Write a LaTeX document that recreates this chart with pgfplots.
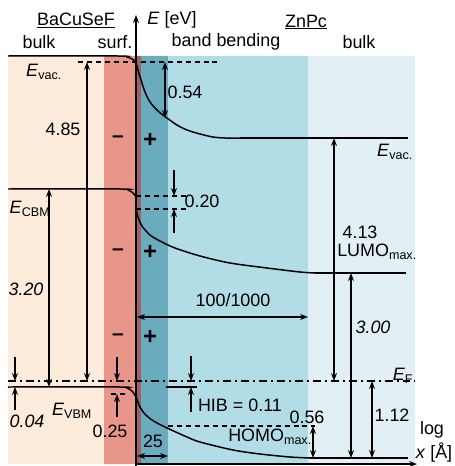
\documentclass[border=0pt]{standalone}
\usepackage{pgfplots}
\pgfplotsset{compat=1.18}
\usepackage{fontspec}
\setmainfont{Liberation Sans}
\usetikzlibrary{arrows.meta}
\definecolor{peach}{HTML}{FDEBDC}
\definecolor{salmon}{HTML}{E8958A}
\definecolor{mauve}{HTML}{A0606A}
\definecolor{teal2}{HTML}{6AABBE}
\definecolor{lblue}{HTML}{B3DDE6}
\definecolor{vlblue}{HTML}{E2F0F5}
\definecolor{txt}{HTML}{2A2A2A}
\begin{document}
\fontsize{18}{20}\selectfont
\begin{tikzpicture}[>={Stealth[length=8pt,width=6pt]},
  pm/.style={font=\fontsize{24}{24}\selectfont\bfseries},
  mn/.style={font=\fontsize{21}{21}\selectfont\bfseries}]
\begin{axis}[width=455bp,height=466bp,scale only axis,
  xmin=0,xmax=455,ymin=0,ymax=466,y dir=reverse,
  axis lines=none,clip=false,
  every node/.append style={text=txt,inner sep=0pt}]
% regions
\addplot[fill=peach,draw=none] coordinates {(8,56) (104,56) (104,464) (8,464) (8,56)};
\addplot[fill=salmon,draw=none] coordinates {(104,56) (136,56) (136,464) (104,464) (104,56)};
\addplot[fill=mauve,draw=none] coordinates {(136,56) (141,56) (141,464) (136,464) (136,56)};
\addplot[fill=teal2,draw=none] coordinates {(141,56) (168,56) (168,464) (141,464) (141,56)};
\addplot[fill=lblue,draw=none] coordinates {(168,56) (308,56) (308,464) (168,464) (168,56)};
\addplot[fill=vlblue,draw=none] coordinates {(308,56) (415,56) (415,464) (308,464) (308,56)};
% dashed lines
\addplot[black,line width=1.1pt,dash pattern=on 5pt off 4pt] coordinates {(78,62) (217,62)};
\addplot[black,line width=1.1pt,dash pattern=on 5pt off 4pt] coordinates {(136,196) (186,196)};
\addplot[black,line width=1.1pt,dash pattern=on 5pt off 4pt] coordinates {(136,209) (186,209)};
\addplot[black,line width=1.1pt,dash pattern=on 5pt off 4pt] coordinates {(168,426) (315,426)};
\addplot[black,line width=1.1pt,dash pattern=on 5pt off 4pt] coordinates {(111,394) (127,394)};
\addplot[black,line width=1.2pt,dash pattern=on 8pt off 4pt on 2pt off 4pt] coordinates {(8,381) (415,381)};
% band lines
\addplot[black,line width=1.5pt,smooth] coordinates {(8,56) (118,56) (127,57) (132,59) (135,61) (136,63) (138,70) (141,80) (145,92) (150,102) (158,111) (167,118) (177,125) (187,130) (200,134) (213,137) (225,138) (240,138)};
\addplot[black,line width=1.5pt] coordinates {(240,138) (408,138)};
\addplot[black,line width=1.5pt,smooth] coordinates {(8,189) (121,189) (128,190) (133,193) (136,197)};
\addplot[black,line width=1.5pt,smooth] coordinates {(136,209) (138,217) (142,226) (150,235) (160,241) (175,248) (200,256) (230,263) (267,268) (300,272) (315,273)};
\addplot[black,line width=1.5pt] coordinates {(315,273) (406,273)};
\addplot[black,line width=1.5pt,smooth] coordinates {(8,387) (120,387) (127,388) (132,391) (136,397) (139,405) (144,413) (152,420) (165,427) (187,437) (200,442) (233,450) (260,454) (290,457) (310,458)};
\addplot[black,line width=1.5pt] coordinates {(310,458) (408,458)};
\addplot[black,line width=1.5pt] coordinates {(166,387) (197,387)};
% axes
\addplot[black,line width=1.5pt,->] coordinates {(136,466) (136,15)};
\addplot[black,line width=1.5pt,->] coordinates {(136,464) (417,464)};
% arrows
\addplot[black,line width=1.2pt,<->] coordinates {(87,62) (87,381)};
\addplot[black,line width=1.2pt,<->] coordinates {(49,189) (49,387)};
\addplot[black,line width=1.2pt,->] coordinates {(15,357) (15,381)};
\addplot[black,line width=1.2pt,->] coordinates {(15,410) (15,387)};
\addplot[black,line width=1.2pt,->] coordinates {(117,357) (117,381)};
\addplot[black,line width=1.2pt,->] coordinates {(117,417) (117,394)};
\addplot[black,line width=1.2pt,<->] coordinates {(165,62) (165,118)};
\addplot[black,line width=1.2pt,->] coordinates {(174,170) (174,196)};
\addplot[black,line width=1.2pt,->] coordinates {(174,233) (174,209)};
\addplot[black,line width=1.2pt,->] coordinates {(191,356) (191,381)};
\addplot[black,line width=1.2pt,->] coordinates {(191,412) (191,387)};
\addplot[black,line width=1.2pt,<->] coordinates {(137,317) (308,317)};
\addplot[black,line width=1.2pt,<->] coordinates {(137,456) (168,456)};
\addplot[black,line width=1.2pt,<->] coordinates {(334,138) (334,381)};
\addplot[black,line width=1.2pt,<->] coordinates {(351,273) (351,458)};
\addplot[black,line width=1.2pt,<->] coordinates {(372,381) (372,458)};
\addplot[black,line width=1.2pt,<->] coordinates {(313,426) (313,458)};
% texts
\node at (axis cs:76,20) {\underline{BaCuSeF}};
\node at (axis cs:39,42) {bulk};
\node at (axis cs:115,42) {surf.};
\node at (axis cs:172,20) {\textit{E} [eV]};
\node at (axis cs:226,42) {band bending};
\node at (axis cs:306,22) {\underline{ZnPc}};
\node at (axis cs:359,42) {bulk};
\node at (axis cs:44,72) {\textit{E}\textsubscript{vac.}};
\node at (axis cs:63,129) {4.85};
\node at (axis cs:185,92) {0.54};
\node at (axis cs:395,152) {\textit{E}\textsubscript{vac.}};
\node at (axis cs:30,209) {\textit{E}\textsubscript{CBM}};
\node at (axis cs:202,201) {0.20};
\node at (axis cs:360,232) {4.13};
\node at (axis cs:377,252) {LUMO\textsubscript{max.}};
\node at (axis cs:26,289) {\textit{3.20}};
\node at (axis cs:233,300) {100/1000};
\node at (axis cs:373,327) {\textit{3.00}};
\node at (axis cs:403,376) {\textit{E}\textsubscript{F}};
\node at (axis cs:72,411) {\textit{E}\textsubscript{VBM}};
\node at (axis cs:240,405) {HIB = 0.11};
\node at (axis cs:307,417) {0.56};
\node at (axis cs:392,415) {1.12};
\node at (axis cs:270,437) {HOMO\textsubscript{max.}};
\node at (axis cs:27,421) {\textit{0.04}};
\node at (axis cs:110,431) {0.25};
\node at (axis cs:153,441) {25};
\node at (axis cs:432,430) {log};
\node at (axis cs:434,453) {\textit{x} [Å]};
\node[mn] at (axis cs:118,139) {–};
\node[pm] at (axis cs:150,140) {+};
\node[mn] at (axis cs:118,252) {–};
\node[pm] at (axis cs:150,252) {+};
\node[mn] at (axis cs:118,337) {–};
\node[pm] at (axis cs:150,337) {+};
\end{axis}
\pgfresetboundingbox
\path[use as bounding box] (current axis.south west) rectangle (current axis.north east);
\end{tikzpicture}
\end{document}
